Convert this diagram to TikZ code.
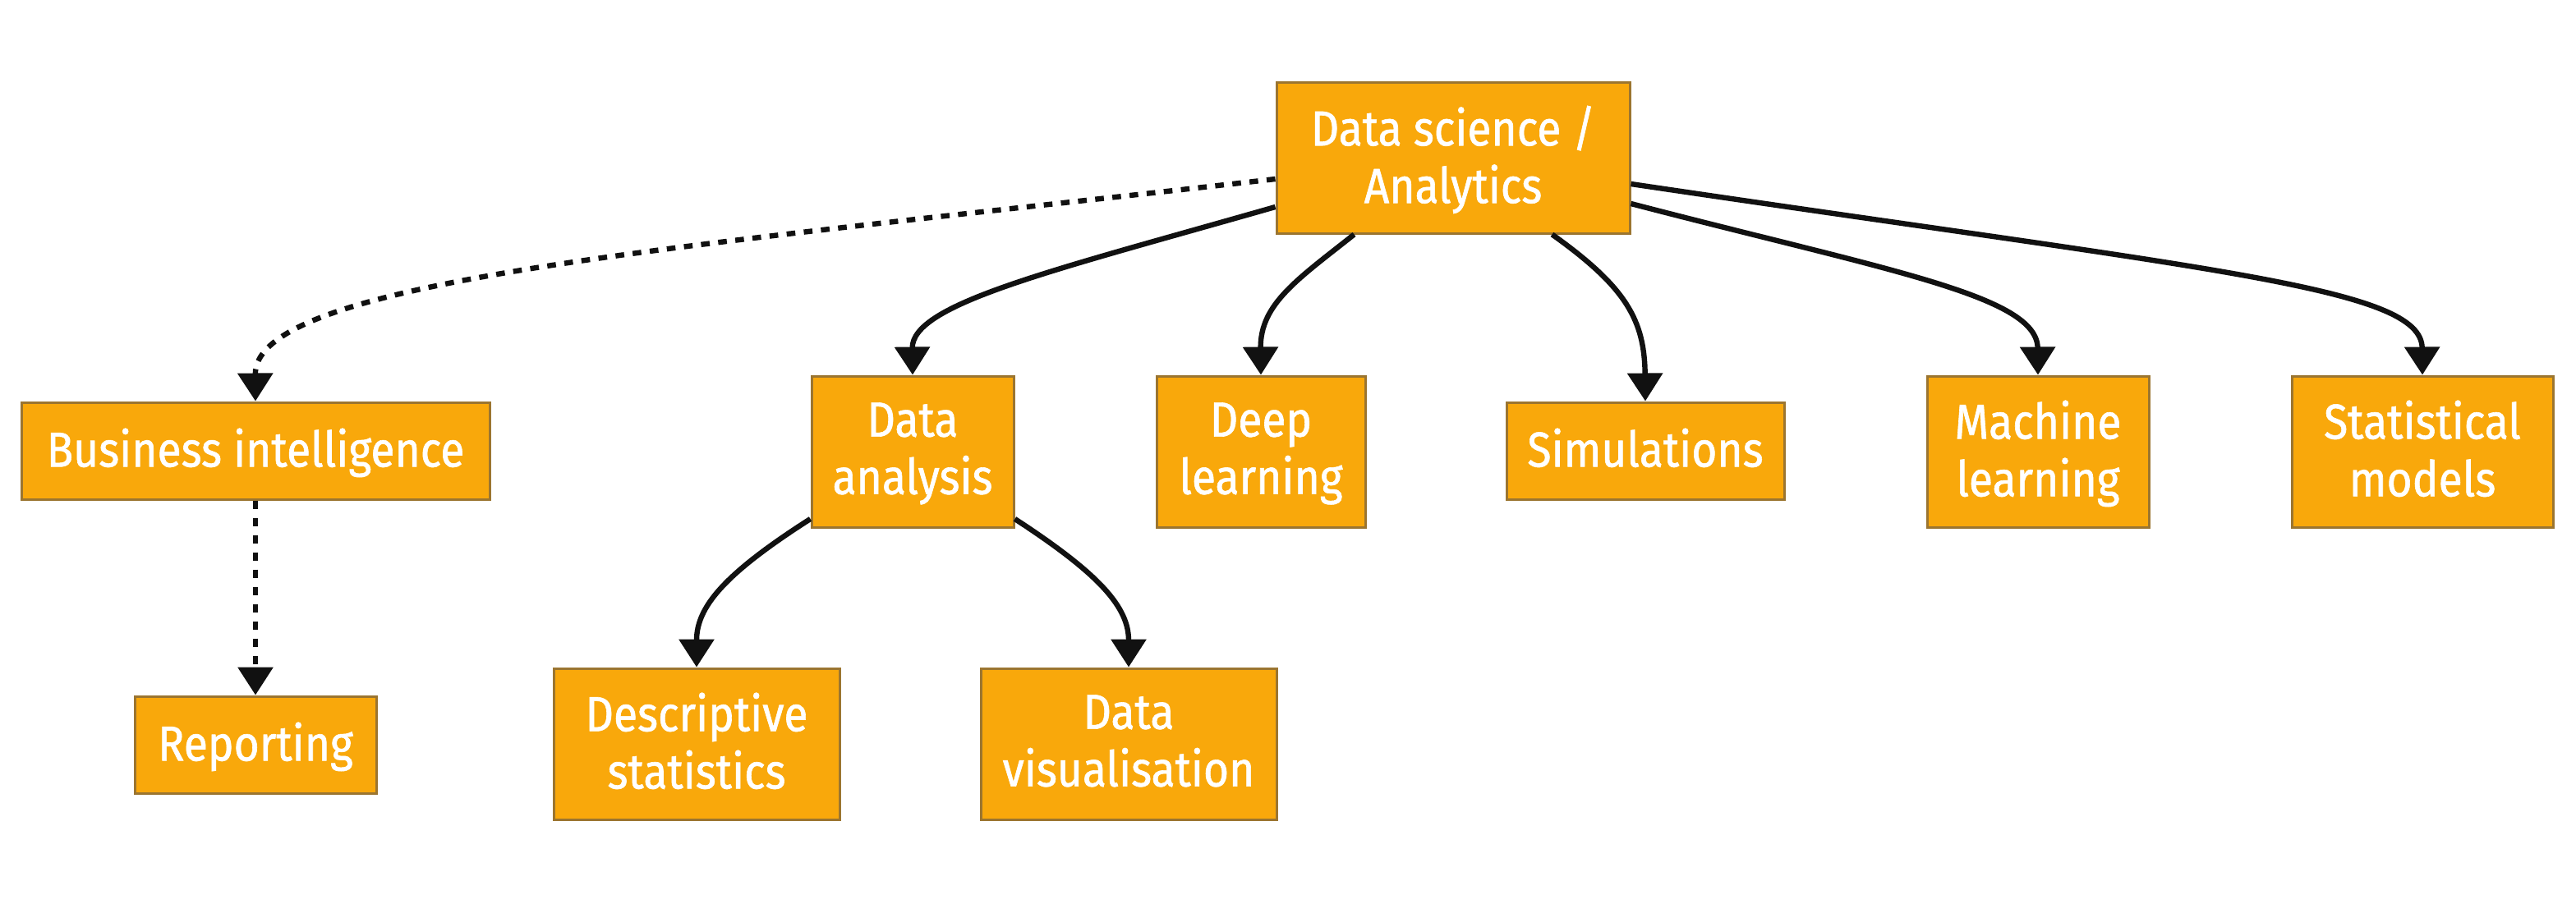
\documentclass[tikz,border=0pt]{standalone}
\usepackage{fontspec}
\setmainfont{Fira Sans}[FakeStretch=0.89,FakeBold=1.0]
\usetikzlibrary{arrows.meta}
\definecolor{boxfill}{HTML}{F9A80B}
\definecolor{boxline}{HTML}{9B7530}
\definecolor{edgecol}{HTML}{111111}
\begin{document}
\begin{tikzpicture}[x=1pt,y=1pt,
  box/.style={draw=boxline, line width=1.5pt, fill=boxfill, text=white,
    align=center, inner sep=0pt, text depth=4pt, font=\fontsize{30}{35}\selectfont},
  onebox/.style={box, minimum height=59pt},
  twobox/.style={box, minimum height=92pt},
  edge/.style={draw=edgecol, line width=3.2pt, -{Triangle[width=21pt,length=17pt]}},
  dottededge/.style={edge, dash pattern=on 5.3pt off 5.2pt}
]
\useasboundingbox[fill=white] (0,0) rectangle (1568,-550);

\node[twobox, minimum width=215pt] (ds) at (884.5,-96) {Data science /\\Analytics};
\node[onebox, minimum width=285pt] (bi) at (155.5,-274.5) {Business intelligence};
\node[onebox, minimum width=147pt] (rep) at (155.5,-453.5) {Reporting};
\node[twobox, minimum width=123pt] (da) at (555.5,-275) {Data\\analysis};
\node[twobox, minimum width=127pt] (dl) at (767.5,-275) {Deep\\learning};
\node[onebox, minimum width=169pt] (sim) at (1001.5,-274.5) {Simulations};
\node[twobox, minimum width=135pt] (ml) at (1240.5,-275) {Machine\\learning};
\node[twobox, minimum width=159pt] (sm) at (1474.5,-275) {Statistical\\models};
\node[twobox, minimum width=174pt] (des) at (424,-453) {Descriptive\\statistics};
\node[twobox, minimum width=180pt] (dv) at (687,-453) {Data\\visualisation};

\draw[dottededge] ([yshift=-13pt]ds.west) .. controls (420,-150) and (155,-170) .. (bi.north);
\draw[dottededge] (bi.south) -- (rep.north);
\draw[edge] ([yshift=-30pt]ds.west) .. controls (640,-165) and (555,-185) .. (da.north);
\draw[edge] ([xshift=48pt]ds.south west) .. controls (790,-170) and (767,-185) .. (dl.north);
\draw[edge] ([xshift=-48pt]ds.south east) .. controls (990,-175) and (1001,-195) .. (sim.north);
\draw[edge] ([yshift=-28pt]ds.east) .. controls (1150,-165) and (1240,-180) .. (ml.north);
\draw[edge] ([yshift=-16pt]ds.east) .. controls (1350,-165) and (1474,-175) .. (sm.north);
\draw[edge] ([yshift=-41pt]da.west) .. controls (440,-350) and (424,-370) .. (des.north);
\draw[edge] ([yshift=-41pt]da.east) .. controls (670,-350) and (687,-370) .. (dv.north);
\end{tikzpicture}
\end{document}
